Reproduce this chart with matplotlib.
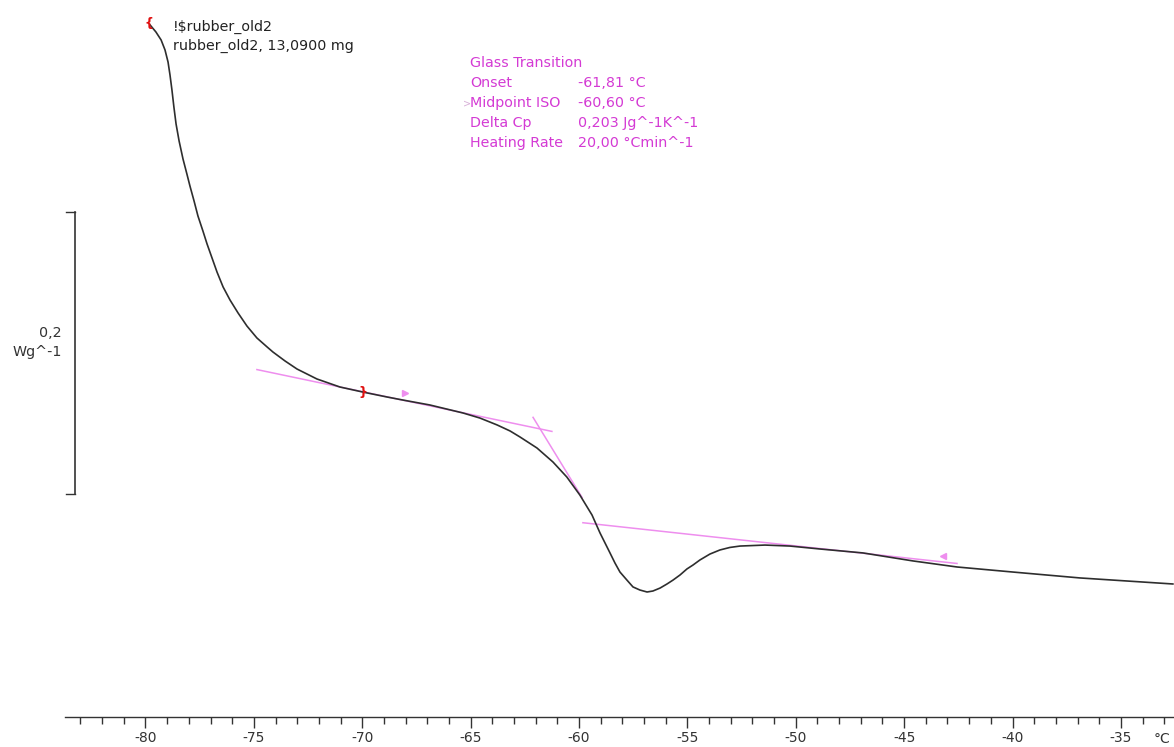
import numpy as np
import matplotlib.pyplot as plt
from matplotlib.ticker import MultipleLocator

plt.rcParams['axes.unicode_minus'] = False

# DSC heating curve, rubber_old2 (temperature in degC, heat flow in W/g, arbitrary offset)
temp = [-79.79, -79.52, -79.28, -79.10, -78.96, -78.87, -78.78, -78.69, -78.59, -78.45,
        -78.27, -78.09, -77.95, -77.76, -77.58, -77.35, -77.16, -76.93, -76.70, -76.42,
        -76.10, -75.73, -75.32, -74.86, -74.39, -74.12, -73.56, -73.01, -72.09, -71.03,
        -69.97, -68.86, -68.12, -66.88, -65.35, -64.57, -63.78, -63.18, -62.72, -61.94,
        -61.20, -60.56, -59.96, -59.40, -59.03, -58.57, -58.34, -58.11, -57.79, -57.51,
        -57.19, -56.86, -56.59, -56.26, -55.94, -55.66, -55.34, -55.02, -54.74, -54.42,
        -53.96, -53.50, -53.04, -52.57, -51.42, -50.27, -48.88, -46.90, -44.59, -42.56,
        -39.98, -36.89, -32.60]
heat_flow = [0.4093, 0.4043, 0.3986, 0.3915, 0.3829, 0.3737, 0.3630, 0.3509, 0.3388, 0.3267,
             0.3139, 0.3032, 0.2947, 0.2840, 0.2733, 0.2626, 0.2534, 0.2434, 0.2334, 0.2228,
             0.2135, 0.2043, 0.1950, 0.1865, 0.1801, 0.1765, 0.1701, 0.1644, 0.1573, 0.1516,
             0.1480, 0.1445, 0.1423, 0.1388, 0.1331, 0.1295, 0.1246, 0.1203, 0.1160, 0.1082,
             0.0982, 0.0875, 0.0747, 0.0605, 0.0477, 0.0335, 0.0263, 0.0199, 0.0142, 0.0093,
             0.0071, 0.0057, 0.0064, 0.0085, 0.0114, 0.0142, 0.0178, 0.0221, 0.0249, 0.0285,
             0.0327, 0.0356, 0.0374, 0.0384, 0.0391, 0.0384, 0.0363, 0.0335, 0.0278, 0.0235,
             0.0199, 0.0157, 0.0114]

# evaluation lines for the glass transition
base1_t, base1_hf = [-74.86, -61.25], [0.164, 0.120]
tangent_t, tangent_hf = [-62.12, -59.86], [0.130, 0.073]
base2_t, base2_hf = [-59.82, -42.56], [0.055, 0.026]

# integration limits and evaluation range arrows
limits_t, limits_hf = [-79.84, -69.97], [0.410, 0.148]
arrows_t, arrows_hf = [-68.03, -43.21], [0.147, 0.031]

results = [("Onset", "-61,81 °C"),
           ("Midpoint ISO", "-60,60 °C"),
           ("Delta Cp", "0,203 Jg^-1K^-1"),
           ("Heating Rate", "20,00 °Cmin^-1")]

W, H = 1174, 747
fig = plt.figure(figsize=(W / 100, H / 100), dpi=100)
ax = fig.add_axes([65 / W, 1 - 717 / H, 1 - 65 / W, 717 / H])

pink = '#d43ad4'
light_pink = '#ee8eee'
curve_col = '#2e2e2e'
fs = 10.3

ax.plot(base1_t, base1_hf, color=light_pink, lw=1.1)
ax.plot(tangent_t, tangent_hf, color=light_pink, lw=1.1)
ax.plot(base2_t, base2_hf, color=light_pink, lw=1.1)
ax.plot(temp, heat_flow, color=curve_col, lw=1.2, solid_joinstyle='round')

ax.plot(arrows_t[0], arrows_hf[0], marker='>', color=light_pink, ms=4)
ax.plot(arrows_t[1], arrows_hf[1], marker='<', color=light_pink, ms=4)
ax.text(limits_t[0], limits_hf[0], '{', color='#e01010', fontsize=9,
        fontweight='bold', ha='center', va='center')
ax.text(limits_t[1], limits_hf[1], '}', color='#e01010', fontsize=9,
        fontweight='bold', ha='center', va='center')

px = 21.675  # pixels per degree
ax.set_xlim(-80 - (145.5 - 65) / px, -80 + (W - 145.5) / px)
ax.set_ylim((600 - 717) / 1405, 600 / 1405)

for s in ['top', 'right', 'left']:
    ax.spines[s].set_visible(False)
ax.spines['bottom'].set_color('#333333')
ax.spines['bottom'].set_linewidth(1.0)
ax.set_yticks([])
ax.set_xticks(np.arange(-80, -34, 5))
ax.xaxis.set_minor_locator(MultipleLocator(1))
ax.tick_params(axis='x', which='major', length=8, width=1, color='#333333',
               labelsize=10, labelcolor='#333333', pad=2)
ax.tick_params(axis='x', which='minor', length=5, width=1, color='#333333')
fig.text(1162 / W, 1 - 739 / H, '°C', fontsize=10, color='#333333',
         ha='center', va='center')

# sample annotation
fig.text(173 / W, 1 - 27 / H, '!$rubber_old2', fontsize=fs, color='#222222', va='center')
fig.text(173 / W, 1 - 46 / H, 'rubber_old2, 13,0900 mg', fontsize=fs, color='#222222',
         va='center')

# glass transition results
fig.text(470 / W, 1 - 63 / H, 'Glass Transition', fontsize=fs, color=pink, va='center')
for i, (name, val) in enumerate(results):
    y = 1 - (83 + 20 * i) / H
    fig.text(470 / W, y, name, fontsize=fs, color=pink, va='center')
    fig.text(578 / W, y, val, fontsize=fs, color=pink, va='center')
fig.text(463 / W, 1 - 103 / H, '>', fontsize=7, color='#d8b0d8', va='center')

# heat flow scale bar
bar_x = 75 / W
fig.add_artist(plt.Line2D([bar_x, bar_x], [1 - 212 / H, 1 - 494 / H],
                          color='#333333', lw=1.2))
for yb in (212, 494):
    fig.add_artist(plt.Line2D([66 / W, bar_x], [1 - yb / H, 1 - yb / H],
                              color='#333333', lw=1.0))
fig.text(62 / W, 1 - 333 / H, '0,2', fontsize=fs, color='#333333', ha='right', va='center')
fig.text(62 / W, 1 - 352 / H, 'Wg^-1', fontsize=fs, color='#333333', ha='right',
         va='center')

fig.savefig('out.png', dpi=100)
